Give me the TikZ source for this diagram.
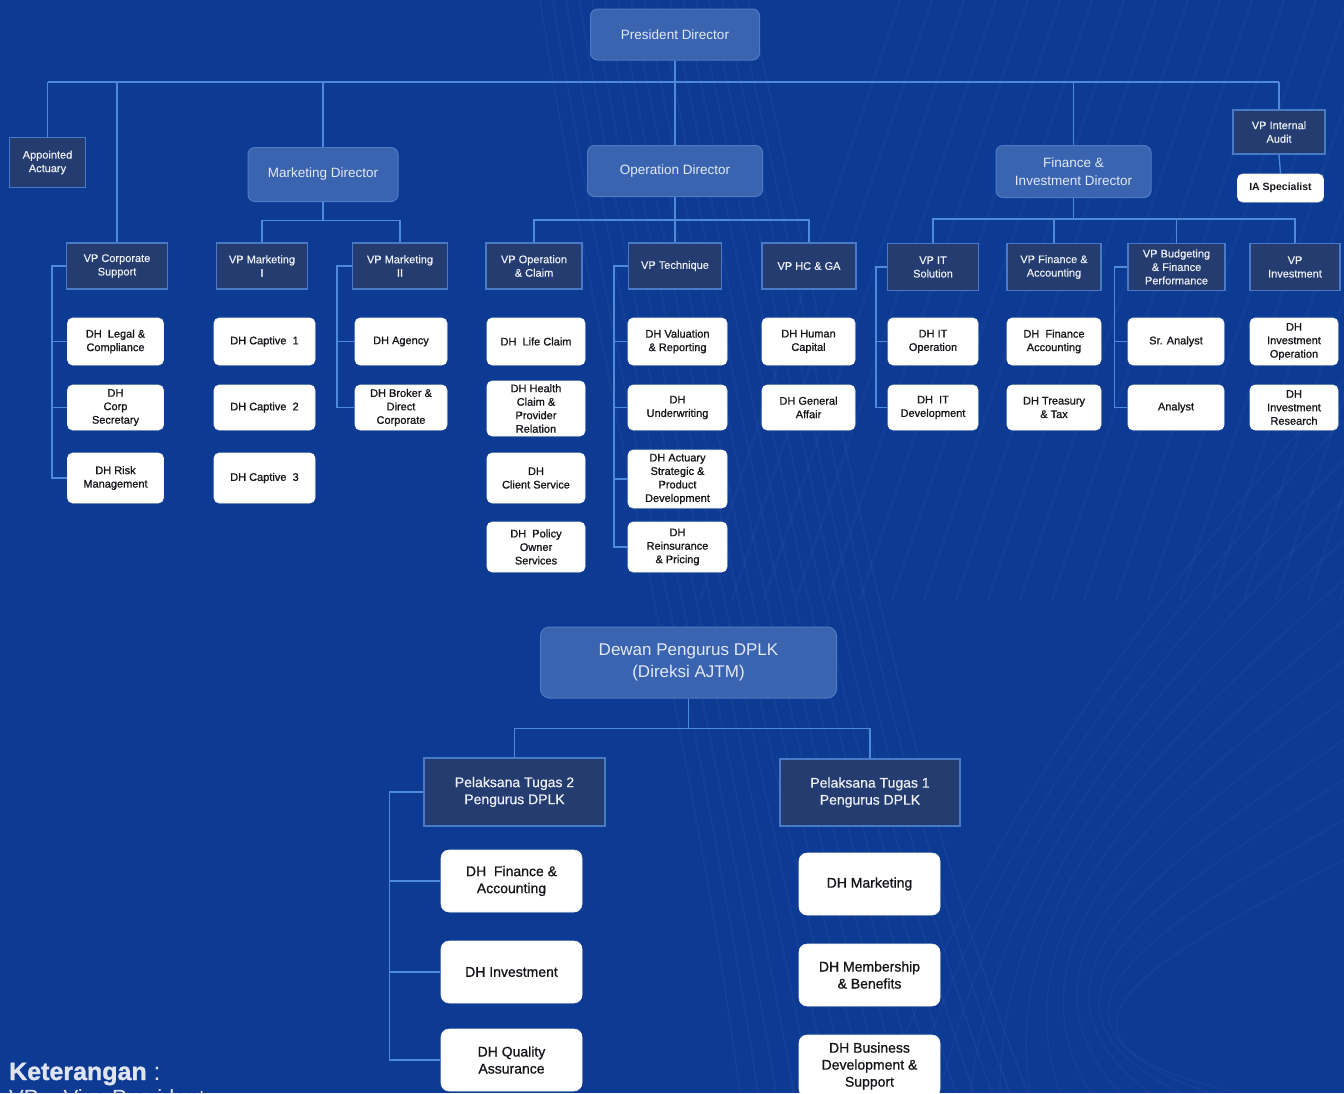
\documentclass[tikz,border=0pt]{standalone}
\usepackage{fontspec}
\setmainfont{Liberation Sans}
\newfontfamily\dhfont[FakeBold=0.9]{Liberation Sans}
\newfontfamily\vpfont[FakeBold=0.5]{Liberation Sans}
\newfontfamily\ketfont[FakeBold=1.2]{Liberation Sans Bold}
\usetikzlibrary{calc}
\definecolor{bg}{RGB}{13,59,148}
\definecolor{dirfill}{RGB}{58,100,176}
\definecolor{dirline}{RGB}{78,122,196}
\definecolor{dirtext}{RGB}{226,232,245}
\definecolor{vpfill}{RGB}{36,60,112}
\definecolor{vpline}{RGB}{72,122,200}
\definecolor{vptext}{RGB}{236,239,246}
\definecolor{lncol}{RGB}{78,138,218}
\definecolor{keytext}{RGB}{222,228,240}
\definecolor{dhtext}{RGB}{20,20,25}
\newcommand\orgbrk[5]{%
  \coordinate (#1B) at ($(#1.west)+(-#2,0)$);
  \draw[conn] (#1.west) -| (#1B |- #3.west) -- (#3.west);
  \foreach \c in {#4} {\draw[conn] (\c.west) -- (\c.west -| #1B);}
}
\begin{document}
\begin{tikzpicture}[x=1pt,y=-1pt,
  conn/.style={draw=lncol,line width=1.3pt},
  base/.style={inner sep=0pt,align=center,anchor=center},
  dirbox/.style={base,fill=dirfill,draw=dirline,line width=1pt,rounded corners=7pt,text=dirtext,font=\fontsize{13.5}{18}\selectfont},
  vpbox/.style={base,fill=vpfill,draw=vpline,line width=1.2pt,text=vptext,font=\vpfont\fontsize{11}{13.5}\selectfont},
  dhbox/.style={base,fill=white,draw=white!90!gray,line width=0.6pt,rounded corners=5pt,text=dhtext,font=\dhfont\fontsize{11}{13.5}\selectfont},
  dhbig/.style={dhbox,rounded corners=8pt,font=\dhfont\fontsize{14}{17}\selectfont},
  pelbox/.style={vpbox,font=\vpfont\fontsize{14}{17}\selectfont},
  sz/.style 2 args={minimum width=#1pt,minimum height=#2pt},
]
\clip (0,0) rectangle (1344,1093);
\fill[bg] (0,0) rectangle (1344,1093);
% faint background texture
\foreach \i in {0,...,16} {
  \draw[white,opacity=0.035,line width=1.6pt] (540+\i*13,0) .. controls (600+\i*15,380) and (690+\i*12,720) .. (740+\i*18,1093);
}
\foreach \i in {0,...,12} {
  \draw[white,opacity=0.03,line width=1.4pt] (1344,380+\i*40) .. controls (1150,600+\i*30) and (1000,800+\i*20) .. (880+\i*30,1093);
}
\foreach \i in {0,...,20} {
  \draw[white,opacity=0.025,line width=3pt] (700+\i*32,600) -- (900+\i*32,0);
}

% ---------------- top level
\node[dirbox,sz={169}{51}] (pres) at (675,34.5) {President Director};
\node[vpbox,sz={76}{50}] (appact) at (47.5,162.5) {Appointed\\Actuary};
\node[vpbox,sz={101}{46}] (vpcs) at (117,266) {VP Corporate\\Support};
\node[dirbox,sz={150}{54}] (mkt) at (323,174.5) {Marketing Director};
\node[vpbox,sz={91}{46}] (vpmA) at (262,266) {VP Marketing\\I};
\node[vpbox,sz={95}{46}] (vpmB) at (400,266) {VP Marketing\\II};
\node[dirbox,sz={175}{51}] (opd) at (675,171) {Operation Director};
\node[vpbox,sz={96}{46}] (vpoc) at (534,266) {VP Operation\\\& Claim};
\node[vpbox,sz={93}{46}] (vptech) at (675,266) {VP Technique};
\node[vpbox,sz={94}{46}] (vphc) at (809,266) {VP HC \& GA};
\node[dirbox,sz={155}{52}] (fid) at (1073.5,171.5) {Finance \&\\Investment Director};
\node[vpbox,sz={91}{47}] (vpit) at (933,267) {VP IT\\Solution};
\node[vpbox,sz={94}{47}] (vpfa) at (1054,267) {VP Finance \&\\Accounting};
\node[vpbox,sz={97}{47}] (vpbf) at (1176.5,267) {VP Budgeting\\\& Finance\\Performance};
\node[vpbox,sz={90}{47}] (vpinv) at (1295,267) {VP\\Investment};
\node[vpbox,sz={92}{44}] (vpia) at (1279,132) {VP Internal\\Audit};
\node[dhbox,font=\bfseries\fontsize{10.5}{12}\selectfont,sz={86}{28}] (ias) at (1280.5,188) {IA Specialist};

% bus
\coordinate (busL) at (47.5,82);
\coordinate (busR) at (1279,82);
\draw[conn] (busL) -- (busR);
\draw[conn] (pres.south) -- (opd.north);
\draw[conn] (appact.north) -- (appact.north |- busL);
\draw[conn] (vpcs.north) -- (vpcs.north |- busL);
\draw[conn] (mkt.north) -- (mkt.north |- busL);
\draw[conn] (fid.north) -- (fid.north |- busL);
\draw[conn] (vpia.north) -- (vpia.north |- busL);
\draw[conn] (vpia.south) -- (ias.north);

% directors to VPs
\draw[conn] (mkt.south) -- ++(0,18.5) coordinate (mkB);
\draw[conn] (vpmA.north) |- (mkB) -| (vpmB.north);
\draw[conn] (opd.south) -- (vptech.north);
\coordinate (opB) at (675,220);
\draw[conn] (vpoc.north) |- (opB) -| (vphc.north);
\coordinate (fiB) at (1073.5,219);
\draw[conn] (fid.south) -- (fiB);
\draw[conn] (vpit.north) |- (fiB) -| (vpinv.north);
\draw[conn] (vpfa.north) -- (vpfa.north |- fiB);
\draw[conn] (vpbf.north) -- (vpbf.north |- fiB);

% ---------------- DH boxes, top section
\node[dhbox,sz={96}{47}] (dhlc) at (115.5,341.5) {DH\ \ Legal \&\\Compliance};
\node[dhbox,sz={96}{45}] (dhcs) at (115.5,407.5) {DH\\Corp\\Secretary};
\node[dhbox,sz={96}{50}] (dhrm) at (115.5,478) {DH Risk\\Management};

\node[dhbox,sz={101}{47}] (dhcA) at (264.5,341.5) {DH Captive\ \ 1};
\node[dhbox,sz={101}{45}] (dhcB) at (264.5,407.5) {DH Captive\ \ 2};
\node[dhbox,sz={101}{50}] (dhcC) at (264.5,478) {DH Captive\ \ 3};

\node[dhbox,sz={92}{47}] (dhag) at (401,341.5) {DH Agency};
\node[dhbox,sz={92}{45}] (dhbr) at (401,407.5) {DH Broker \&\\Direct\\Corporate};

\node[dhbox,sz={98}{47}] (dhlife) at (536,341.5) {DH\ \ Life Claim};
\node[dhbox,sz={98}{55}] (dhhc) at (536,408.5) {DH Health\\Claim \&\\Provider\\Relation};
\node[dhbox,sz={98}{50}] (dhcl) at (536,478) {DH\\Client Service};
\node[dhbox,sz={98}{50}] (dhpo) at (536,547) {DH\ \ Policy\\Owner\\Services};

\node[dhbox,sz={99}{47}] (dhval) at (677.5,341.5) {DH Valuation\\\& Reporting};
\node[dhbox,sz={99}{45}] (dhuw) at (677.5,407.5) {DH\\Underwriting};
\node[dhbox,sz={99}{58}] (dhact) at (677.5,479) {DH Actuary\\Strategic \&\\Product\\Development};
\node[dhbox,sz={99}{50}] (dhre) at (677.5,547) {DH\\Reinsurance\\\& Pricing};

\node[dhbox,sz={93}{47}] (dhhum) at (808.5,341.5) {DH Human\\Capital};
\node[dhbox,sz={93}{45}] (dhga) at (808.5,407.5) {DH General\\Affair};

\node[dhbox,sz={90}{47}] (dhito) at (933,341.5) {DH IT\\Operation};
\node[dhbox,sz={90}{45}] (dhitd) at (933,407.5) {DH\ \ IT\\Development};

\node[dhbox,sz={94}{47}] (dhfa) at (1054,341.5) {DH\ \ Finance\\Accounting};
\node[dhbox,sz={94}{45}] (dhtt) at (1054,407.5) {DH Treasury\\\& Tax};

\node[dhbox,sz={96}{47}] (sran) at (1176,341.5) {Sr. Analyst};
\node[dhbox,sz={96}{45}] (anal) at (1176,407.5) {Analyst};

\node[dhbox,sz={88}{47}] (dhio) at (1294,341.5) {DH\\Investment\\Operation};
\node[dhbox,sz={88}{45}] (dhir) at (1294,407.5) {DH\\Investment\\Research};

\orgbrk{vpcs}{14}{dhrm}{dhlc,dhcs}
\orgbrk{vpmA}{16}{dhcC}{dhcA,dhcB}
\orgbrk{vpmB}{15}{dhbr}{dhag}
\orgbrk{vpoc}{14}{dhpo}{dhlife,dhhc,dhcl}
\orgbrk{vptech}{14}{dhre}{dhval,dhuw,dhact}
\orgbrk{vphc}{14}{dhga}{dhhum}
\orgbrk{vpit}{11}{dhitd}{dhito}
\orgbrk{vpfa}{12}{dhtt}{dhfa}
\orgbrk{vpbf}{13}{anal}{sran}
\orgbrk{vpinv}{14}{dhir}{dhio}

% ---------------- DPLK section
\node[dirbox,rounded corners=9pt,font=\fontsize{17}{22}\selectfont,sz={296}{71}] (dewan) at (688.5,662.5) {Dewan Pengurus DPLK\\(Direksi AJTM)};
\node[pelbox,sz={181}{68}] (pelB) at (514.5,792) {Pelaksana Tugas 2\\Pengurus DPLK};
\node[pelbox,sz={180}{67}] (pelA) at (870,792.5) {Pelaksana Tugas 1\\Pengurus DPLK};
\draw[conn] (dewan.south) -- ++(0,30) coordinate (dwB);
\draw[conn] (pelB.north) |- (dwB) -| (pelA.north);

\node[dhbig,sz={141}{62}] (bfa) at (511.5,881) {DH\ \ Finance \&\\Accounting};
\node[dhbig,sz={141}{62}] (binv) at (511.5,972) {DH Investment};
\node[dhbig,sz={141}{62}] (bqa) at (511.5,1060) {DH Quality\\Assurance};
\node[dhbig,sz={141}{62}] (bmk) at (869.5,884) {DH Marketing};
\node[dhbig,sz={141}{62}] (bmb) at (869.5,975) {DH Membership\\\& Benefits};
\node[dhbig,sz={141}{62}] (bbd) at (869.5,1066) {DH Business\\Development \&\\Support};
\orgbrk{pelB}{34}{bqa}{bfa,binv}
\orgbrk{pelA}{33}{bbd}{bmk,bmb}

% legend
\node[anchor=base west,inner sep=0pt,text=keytext,font=\fontsize{25}{25}\selectfont] (ket) at (9,1080) {{\ketfont Keterangan} :};
\node[anchor=base west,inner sep=0pt,text=keytext,font=\fontsize{22}{22}\selectfont] (vpdef) at (9,1105) {VP = Vice President};
\end{tikzpicture}
\end{document}
